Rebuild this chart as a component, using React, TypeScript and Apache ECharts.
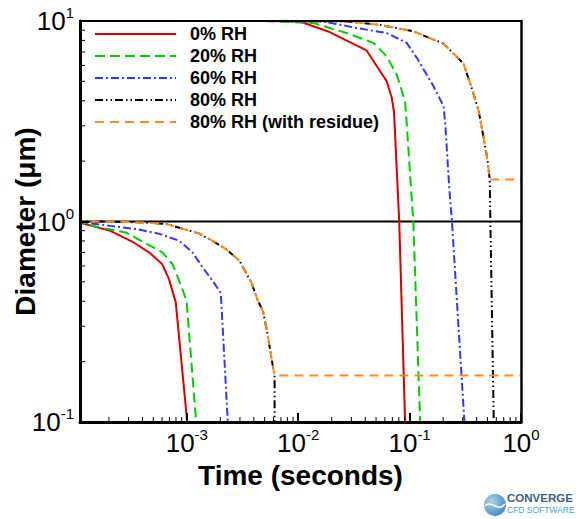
import React, { useEffect, useRef } from 'react';
import * as echarts from 'echarts';

const FONT = '"Liberation Sans", Arial, Helvetica, sans-serif';
const X_MIN = 1.1e-4;
const X_MAX = 1;
const Y_MIN = 0.1;
const Y_MAX = 10;

const legendNames = ['0% RH', '20% RH', '60% RH', '80% RH', '80% RH (with residue)'];

// 1 µm droplet family  [time (s), diameter (µm)]
const rh0Small: [number, number][] = [
  [1e-4, 1], [2.06e-4, 0.898], [3.34e-4, 0.786], [4.72e-4, 0.693], [6.01e-4, 0.613],
  [6.92e-4, 0.516], [7.96e-4, 0.395], [1.005e-3, 0.102], [1.026e-3, 0.091],
];
const rh20Small: [number, number][] = [
  [1e-4, 1], [1.56e-4, 0.94], [2.83e-4, 0.882], [6.05e-4, 0.701], [7.45e-4, 0.613],
  [8.56e-4, 0.506], [9.7e-4, 0.42], [1.0e-3, 0.39], [1.21e-3, 0.102], [1.233e-3, 0.091],
];
const rh60Small: [number, number][] = [
  [1e-4, 1], [2.06e-4, 0.951], [3.58e-4, 0.916], [5.81e-4, 0.865], [8.56e-4, 0.801],
  [1.127e-3, 0.701], [1.387e-3, 0.59], [1.706e-3, 0.506], [2.02e-3, 0.44],
  [2.33e-3, 0.102], [2.36e-3, 0.091],
];
const rh80SmallShared: [number, number][] = [
  [1e-4, 1], [2.05e-4, 1.0], [4.11e-4, 0.989], [6.67e-4, 0.97], [9.44e-4, 0.916],
  [1.297e-3, 0.87], [1.71e-3, 0.8], [2.25e-3, 0.728], [2.97e-3, 0.637], [3.79e-3, 0.497],
  [4.35e-3, 0.403], [4.82e-3, 0.358], [5.31e-3, 0.275], [5.77e-3, 0.206], [6.14e-3, 0.1706],
];
const rh80SmallTail: [number, number][] = [[6.14e-3, 0.102], [6.15e-3, 0.09]];
const rh80ResSmallTail: [number, number][] = [[1, 0.1706]];

// 10 µm droplet family
const rh0Large: [number, number][] = [
  [5e-3, 10], [1.031e-2, 9.95], [1.92e-2, 8.81], [4.11e-2, 7.13], [6.23e-2, 5.01],
  [6.92e-2, 4.14], [7.25e-2, 3.5], [8.07e-2, 1.0], [9.11e-2, 0.1007], [9.15e-2, 0.091],
];
const rh20Large: [number, number][] = [
  [5e-3, 10], [1.36e-2, 9.77], [2.72e-2, 8.71], [4.72e-2, 7.78], [6.23e-2, 6.67],
  [7.67e-2, 5.4], [9.11e-2, 3.98], [9.44e-2, 3.05], [0.101, 1.72], [0.108, 1.0],
  [0.1243, 0.1015], [0.1245, 0.091],
];
const rh60Large: [number, number][] = [
  [5e-3, 10], [1.67e-2, 9.95], [3.34e-2, 9.23], [6.23e-2, 8.71], [9.44e-2, 7.77],
  [0.116, 6.55], [0.164, 4.73], [0.202, 3.75], [0.209, 3.05], [0.216, 2.29],
  [0.228, 1.42], [0.24, 1.0], [0.31, 0.102], [0.311, 0.091],
];
const rh80LargeShared: [number, number][] = [
  [5e-3, 10], [2.72e-2, 9.95], [5.42e-2, 9.57], [0.108, 8.88], [0.2015, 7.71],
  [0.305, 6.13], [0.366, 4.53], [0.417, 3.55], [0.462, 2.62], [0.502, 2.0], [0.524, 1.62],
];
const rh80LargeTail: [number, number][] = [[0.531, 1.0], [0.569, 0.104], [0.571, 0.091]];
const rh80ResLargeTail: [number, number][] = [[1, 1.62]];

const refLine: [number, number][] = [[X_MIN, 1], [X_MAX, 1]];

const xMinorTicks = [
  2e-4, 3e-4, 4e-4, 5e-4, 6e-4, 7e-4, 8e-4, 9e-4,
  2e-3, 3e-3, 4e-3, 5e-3, 6e-3, 7e-3, 8e-3, 9e-3,
  2e-2, 3e-2, 4e-2, 5e-2, 6e-2, 7e-2, 8e-2, 9e-2,
  0.2, 0.3, 0.4, 0.5, 0.6, 0.7, 0.8, 0.9,
];
const yMinorTicks = [0.2, 0.3, 0.4, 0.5, 0.6, 0.7, 0.8, 0.9, 2, 3, 4, 5, 6, 7, 8, 9];

const COLORS = {
  rh0: '#d40000',
  rh20: '#00cc00',
  rh60: '#3535ff',
  rh80: '#000000',
  res: '#ff8c1a',
};
const DASH = {
  rh20: [10, 5],
  rh60: [8, 3, 2, 3],
  rh80: [8, 3, 1.5, 3, 1.5, 3],
  res: [9, 6],
};

function powLabel(v: number) {
  const lg = Math.log10(v);
  const e = Math.round(lg);
  if (Math.abs(lg - e) > 1e-6) return '';
  return `{b|10}{s|${e}}`;
}

const labelRich = {
  b: { fontSize: 26, fontFamily: FONT, color: '#000' },
  s: { fontSize: 15, fontFamily: FONT, color: '#000', padding: [0, 0, 17, 0] },
};

function lineSeries(name: string, data: [number, number][], color: string, dash: any, z: number) {
  return {
    type: 'line',
    name,
    data,
    symbol: 'none',
    showSymbol: false,
    z,
    clip: true,
    silent: true,
    lineStyle: { color, width: 2, type: dash },
    itemStyle: { color },
  };
}

export default function App() {
  const ref = useRef<HTMLDivElement>(null);
  useEffect(() => {
    const chart = echarts.init(ref.current!, null, { renderer: 'svg' });
    const rh80Small = rh80SmallShared.concat(rh80SmallTail);
    const resSmall = rh80SmallShared.concat(rh80ResSmallTail);
    const rh80Large = rh80LargeShared.concat(rh80LargeTail);
    const resLarge = rh80LargeShared.concat(rh80ResLargeTail);

    const option: any = {
      animation: false,
      backgroundColor: '#fff',
      textStyle: { fontFamily: FONT },
      grid: {
        left: 80,
        right: 55,
        top: 21,
        bottom: 97,
        containLabel: false,
        outerBoundsMode: 'none',
      },
      legend: {
        data: legendNames,
        orient: 'vertical',
        left: 94,
        top: 23,
        padding: 0,
        itemWidth: 81,
        itemHeight: 14,
        itemGap: 0,
        selectedMode: false,
        itemStyle: { opacity: 0 },
        textStyle: {
          fontFamily: FONT,
          fontWeight: 'bold',
          fontSize: 18,
          color: '#000',
          lineHeight: 22,
          padding: [0, 0, 0, 9],
        },
      },
      xAxis: [
        {
          type: 'log',
          logBase: 10,
          min: X_MIN,
          max: X_MAX,
          z: 10,
          name: 'Time (seconds)',
          nameLocation: 'middle',
          nameGap: 39,
          nameTextStyle: { fontFamily: FONT, fontWeight: 'bold', fontSize: 28, color: '#000' },
          axisLine: { show: true, lineStyle: { color: '#000', width: 3 } },
          axisTick: { show: true, inside: true, length: 9, lineStyle: { color: '#000', width: 2 } },
          minorTick: { show: false },
          splitLine: { show: false },
          axisLabel: { formatter: powLabel, rich: labelRich, margin: 5, hideOverlap: false },
        },
        {
          type: 'log',
          logBase: 10,
          min: X_MIN,
          max: X_MAX,
          position: 'top',
          z: 10,
          axisLine: { show: true, onZero: false, lineStyle: { color: '#000', width: 2 } },
          axisTick: { show: false },
          axisLabel: { show: false },
          splitLine: { show: false },
        },
      ],
      yAxis: [
        {
          type: 'log',
          logBase: 10,
          min: Y_MIN,
          max: Y_MAX,
          z: 10,
          name: 'Diameter (\u03bcm)',
          nameLocation: 'middle',
          nameGap: 41,
          nameMoveOverlap: false,
          nameTextStyle: { fontFamily: FONT, fontWeight: 'bold', fontSize: 28, color: '#000' },
          axisLine: { show: true, onZero: false, lineStyle: { color: '#000', width: 3 } },
          axisTick: { show: true, inside: true, length: 9, lineStyle: { color: '#000', width: 2 } },
          splitLine: { show: false },
          axisLabel: { formatter: powLabel, rich: labelRich, margin: 6 },
        },
        {
          type: 'log',
          logBase: 10,
          min: Y_MIN,
          max: Y_MAX,
          position: 'right',
          z: 10,
          axisLine: { show: true, onZero: false, lineStyle: { color: '#000', width: 2.5 } },
          axisTick: { show: false },
          axisLabel: { show: false },
          splitLine: { show: false },
        },
      ],
      series: [
        {
          type: 'line',
          name: 'ref',
          data: refLine,
          symbol: 'none',
          z: 1,
          silent: true,
          lineStyle: { color: '#000', width: 2 },
        },
        lineSeries('0% RH', rh0Small, COLORS.rh0, 'solid', 3),
        lineSeries('20% RH', rh20Small, COLORS.rh20, DASH.rh20, 3),
        lineSeries('60% RH', rh60Small, COLORS.rh60, DASH.rh60, 3),
        lineSeries('80% RH', rh80Small, COLORS.rh80, DASH.rh80, 3),
        lineSeries('80% RH (with residue)', resSmall, COLORS.res, DASH.res, 4),
        lineSeries('0% RH', rh0Large, COLORS.rh0, 'solid', 3),
        lineSeries('20% RH', rh20Large, COLORS.rh20, DASH.rh20, 3),
        lineSeries('60% RH', rh60Large, COLORS.rh60, DASH.rh60, 3),
        lineSeries('80% RH', rh80Large, COLORS.rh80, DASH.rh80, 3),
        lineSeries('80% RH (with residue)', resLarge, COLORS.res, DASH.res, 4),
        {
          type: 'custom',
          name: 'xminor',
          data: xMinorTicks.map((v) => [v, Y_MIN]),
          z: 11,
          silent: true,
          clip: false,
          renderItem: (params: any, api: any) => {
            const p = api.coord([api.value(0), api.value(1)]);
            return {
              type: 'line',
              shape: { x1: p[0], y1: p[1], x2: p[0], y2: p[1] - 5 },
              style: { stroke: '#000', lineWidth: 1 },
            };
          },
        },
        {
          type: 'custom',
          name: 'yminor',
          data: yMinorTicks.map((v) => [X_MIN, v]),
          z: 11,
          silent: true,
          clip: false,
          renderItem: (params: any, api: any) => {
            const p = api.coord([api.value(0), api.value(1)]);
            return {
              type: 'line',
              shape: { x1: p[0], y1: p[1], x2: p[0] + 5, y2: p[1] },
              style: { stroke: '#000', lineWidth: 1 },
            };
          },
        },
      ],
      graphic: [
        {
          type: 'circle',
          shape: { cx: 495, cy: 505, r: 11 },
          style: {
            fill: new echarts.graphic.RadialGradient(0.35, 0.35, 0.8, [
              { offset: 0, color: '#a9d3ee' },
              { offset: 1, color: '#3d7fb5' },
            ]),
          },
        },
        {
          type: 'bezierCurve',
          shape: { x1: 485, y1: 506, cpx1: 491, cpy1: 499, cpx2: 498, cpy2: 513, x2: 505, y2: 504 },
          style: { stroke: '#ffffff', lineWidth: 1.5, fill: 'none' },
        },
        {
          type: 'text',
          x: 507,
          y: 498,
          style: {
            text: 'CONVERGE',
            fontFamily: FONT,
            fontWeight: 'bold',
            fontSize: 11.5,
            fill: '#3f5d7a',
            verticalAlign: 'middle',
          },
        },
        {
          type: 'text',
          x: 507,
          y: 510,
          style: {
            text: 'CFD SOFTWARE',
            fontFamily: FONT,
            fontSize: 8.5,
            fill: '#4b9fd6',
            verticalAlign: 'middle',
          },
        },
      ],
    };
    chart.setOption(option);
    return () => chart.dispose();
  }, []);
  return (
    <div
      ref={ref}
      style={{ position: 'absolute', left: 0, top: 0, width: 576, height: 519 }}
    />
  );
}
